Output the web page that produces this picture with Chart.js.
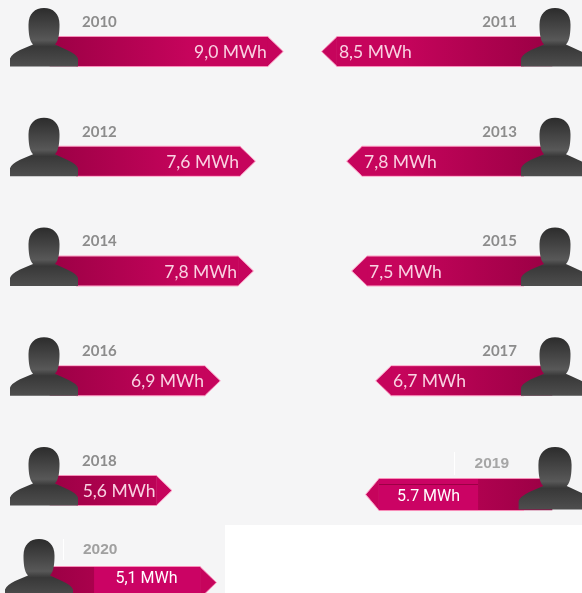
<!DOCTYPE html>
<html>
<head>
<meta charset="utf-8">
<style>html,body{margin:0;padding:0;background:#f5f5f6}canvas{display:block}</style>
<script src="https://cdn.jsdelivr.net/npm/chart.js@4"></script>
</head>
<body>
<canvas id="c" width="582" height="593"></canvas>
<script>
// Years and labelled consumption, as printed in the picture
const leftYears   = ['2010','2012','2014','2016','2018'];
const leftLabels  = ['9,0 MWh','7,6 MWh','7,8 MWh','6,9 MWh','5,6 MWh'];
const rightYears  = ['2011','2013','2015','2017'];
const rightLabels = ['8,5 MWh','7,8 MWh','7,5 MWh','6,7 MWh'];
const addedYears  = ['2019','2020'];
const addedLabels = ['5.7 MWh','5,1 MWh'];
// Bar lengths as drawn in the picture (the infographic's bars are not strictly to scale)
const leftLengths  = [9.0, 7.85, 7.77, 6.4, 4.4];
const rightLengths = [8.5, 7.51, 7.31, 6.36];
const length2019   = [6.84];
const length2020   = [6.2];
// Flat label patches pasted over the two newest bars [from, to]
const patch2019 = [[2.92, 6.84]];
const patch2020 = [[1.82, 6.2]];
const rowsMain = [0,1,2,3,4];

const BG = '#f5f5f6';
const PATCH = '#cb0364';
const cvs = document.getElementById('c');
const g = cvs.getContext('2d');
const gradL = g.createLinearGradient(50,0,190,0);
gradL.addColorStop(0,'#9c0045'); gradL.addColorStop(1,'#c6045c');
const gradR = g.createLinearGradient(545,0,400,0);
gradR.addColorStop(0,'#9c0045'); gradR.addColorStop(1,'#c6045c');
const EDGE = 'rgba(255,130,180,0.75)';
const TIPL = '#c6045c';

function person(ctx, cx, cy, k){
  ctx.save();
  ctx.filter = 'blur(0.6px)';
  ctx.translate(cx, cy);
  ctx.scale(k||1, k||1);
  const gr = ctx.createLinearGradient(0,-43.5,0,15);
  gr.addColorStop(0,'#2c2c2c');
  gr.addColorStop(0.55,'#585858');
  gr.addColorStop(0.66,'#383838');
  gr.addColorStop(1,'#4e4e4e');
  ctx.fillStyle = gr;
  ctx.beginPath();
  ctx.moveTo(-34,15);
  ctx.lineTo(-34,7);
  ctx.quadraticCurveTo(-33,3,-24,-1.5);
  ctx.lineTo(-11,-7);
  ctx.bezierCurveTo(-15,-11,-15.5,-20,-15.5,-27);
  ctx.bezierCurveTo(-15.5,-38,-9,-43.5,0,-43.5);
  ctx.bezierCurveTo(9,-43.5,15.5,-38,15.5,-27);
  ctx.bezierCurveTo(15.5,-20,15,-11,11,-7);
  ctx.lineTo(23,-1.5);
  ctx.quadraticCurveTo(33,3,34,7);
  ctx.lineTo(34,15);
  ctx.closePath();
  ctx.fill();
  ctx.restore();
}
function arrow(ctx, el, dir, len){
  const t = el.y - el.height/2, b = el.y + el.height/2, e = el.x, L = len||15;
  const low = dir > 0 ? 76 : 524;
  ctx.fillStyle = TIPL;
  ctx.beginPath();
  ctx.moveTo(e,t); ctx.lineTo(e+dir*L,el.y); ctx.lineTo(e,b); ctx.closePath(); ctx.fill();
  ctx.strokeStyle = EDGE; ctx.lineWidth = 1;
  ctx.beginPath();
  ctx.moveTo(el.base,t-0.5); ctx.lineTo(e,t-0.5); ctx.lineTo(e+dir*(L+0.5),el.y);
  ctx.lineTo(e,b+0.5); ctx.lineTo(low,b+0.5);
  ctx.stroke();
}
function text(ctx, s, x, y, font, color, align, blur){
  ctx.save();
  if (blur) ctx.filter = 'blur(' + blur + 'px)';
  ctx.font = font; ctx.fillStyle = color; ctx.textAlign = align; ctx.textBaseline = 'middle';
  ctx.fillText(s, x, y);
  ctx.restore();
}
const FIG = {
  id:'fig',
  beforeDraw(chart){
    const ctx = chart.ctx;
    ctx.save();
    ctx.fillStyle = BG; ctx.fillRect(0,0,582,593);
    ctx.fillStyle = '#ffffff'; ctx.fillRect(225,525,357,68);
    ctx.restore();
  },
  afterDatasetsDraw(chart){
    const ctx = chart.ctx;
    const els = i => chart.getDatasetMeta(i).data;
    const YEAR = 'bold 15px Lato', VAL = '17.5px Lato', SANS = '16px Roboto', YEAR2 = 'bold 15.5px "Liberation Sans"';
    ctx.save();
    // arrow tips
    els(0).forEach(e => arrow(ctx,e,1));
    els(1).forEach(e => arrow(ctx,e,-1));
    arrow(ctx,els(2)[0],-1,13);
    arrow(ctx,els(3)[0],1,16);
    // patches
    const p19 = els(4)[0], p20 = els(5)[0];
    ctx.fillStyle = PATCH;
    ctx.fillRect(Math.min(p19.x,p19.base), p19.y-p19.height/2, Math.abs(p19.x-p19.base), p19.height);
    ctx.fillRect(Math.min(p20.x,p20.base), p20.y-p20.height/2, Math.abs(p20.x-p20.base), p20.height);
    ctx.strokeStyle = '#9c0045'; ctx.lineWidth = 1;
    ctx.beginPath(); ctx.moveTo(379,484.5); ctx.lineTo(478,484.5); ctx.stroke();
    // figures
    els(0).forEach(e => person(ctx,44,e.y));
    els(1).forEach(e => person(ctx,555,e.y));
    person(ctx,555,els(2)[0].y-1,1.07);
    person(ctx,39,els(3)[0].y);
    // years and values
    els(0).forEach((e,i)=>{
      text(ctx,leftYears[i],82,e.y-29.5,YEAR,'#8c8c8c','left',0.4);
      text(ctx,leftLabels[i],e.x-1,e.y+1,VAL,'#f9d2e2','right',0.4);
    });
    els(1).forEach((e,i)=>{
      text(ctx,rightYears[i],517,e.y-29.5,YEAR,'#8c8c8c','right',0.4);
      text(ctx,rightLabels[i],e.x+2,e.y+1,VAL,'#f9d2e2','left',0.4);
    });
    text(ctx,addedYears[0],509,463.5,YEAR2,'#a6a6a6','right');
    text(ctx,addedYears[1],83,549.5,YEAR2,'#a0a0a0','left');
    text(ctx,addedLabels[0],428.5,496.5,SANS,'#ffffff','center');
    text(ctx,addedLabels[1],146.5,578.5,SANS,'#ffffff','center');
    // white hairlines
    ctx.strokeStyle = '#ffffff'; ctx.lineWidth = 1;
    ctx.beginPath();
    ctx.moveTo(454.5,452); ctx.lineTo(454.5,475);
    ctx.moveTo(63.5,539); ctx.lineTo(63.5,560);
    ctx.stroke();
    ctx.restore();
  }
};
const bar = (data, xAxisID, yAxisID, color, thick) => ({
  data, xAxisID, yAxisID, backgroundColor:color, barThickness:thick, grouped:false,
  borderSkipped:false
});
new Chart(cvs,{
  type:'bar',
  data:{
    labels: rowsMain,
    datasets:[
      bar(rowsMain.slice(0,5).map((r,i)=>({x:leftLengths[i],y:r})),'x','y',gradL,29),
      bar(rowsMain.slice(0,4).map((r,i)=>({x:rightLengths[i],y:r})),'x2','y',gradR,29),
      bar(length2019.map(v=>({x:v,y:0})),'x2','y2',gradR,31),
      bar(length2020.map(v=>({x:v,y:1})),'x','y2',gradL,31),
      bar(patch2019.map(v=>({x:v,y:0})),'x2','y2','rgba(0,0,0,0)',31),
      bar(patch2020.map(v=>({x:v,y:1})),'x','y2','rgba(0,0,0,0)',31)
    ]
  },
  options:{
    indexAxis:'y',
    responsive:false,
    animation:false,
    layout:{padding:0},
    plugins:{legend:{display:false},tooltip:{enabled:false}},
    scales:{
      x:{type:'linear',display:false,min:-2.066,max:21.98,grid:{display:false}},
      x2:{type:'linear',axis:'x',display:false,reverse:true,min:-1.186,max:21.82,grid:{display:false}},
      y:{type:'linear',offset:false,display:false,reverse:true,min:-0.4692,max:4.9339,grid:{display:false}},
      y2:{type:'linear',offset:false,axis:'y',display:false,reverse:true,min:-5.619,max:1.119,grid:{display:false}}
    }
  },
  plugins:[FIG]
});
</script>
</body>
</html>
